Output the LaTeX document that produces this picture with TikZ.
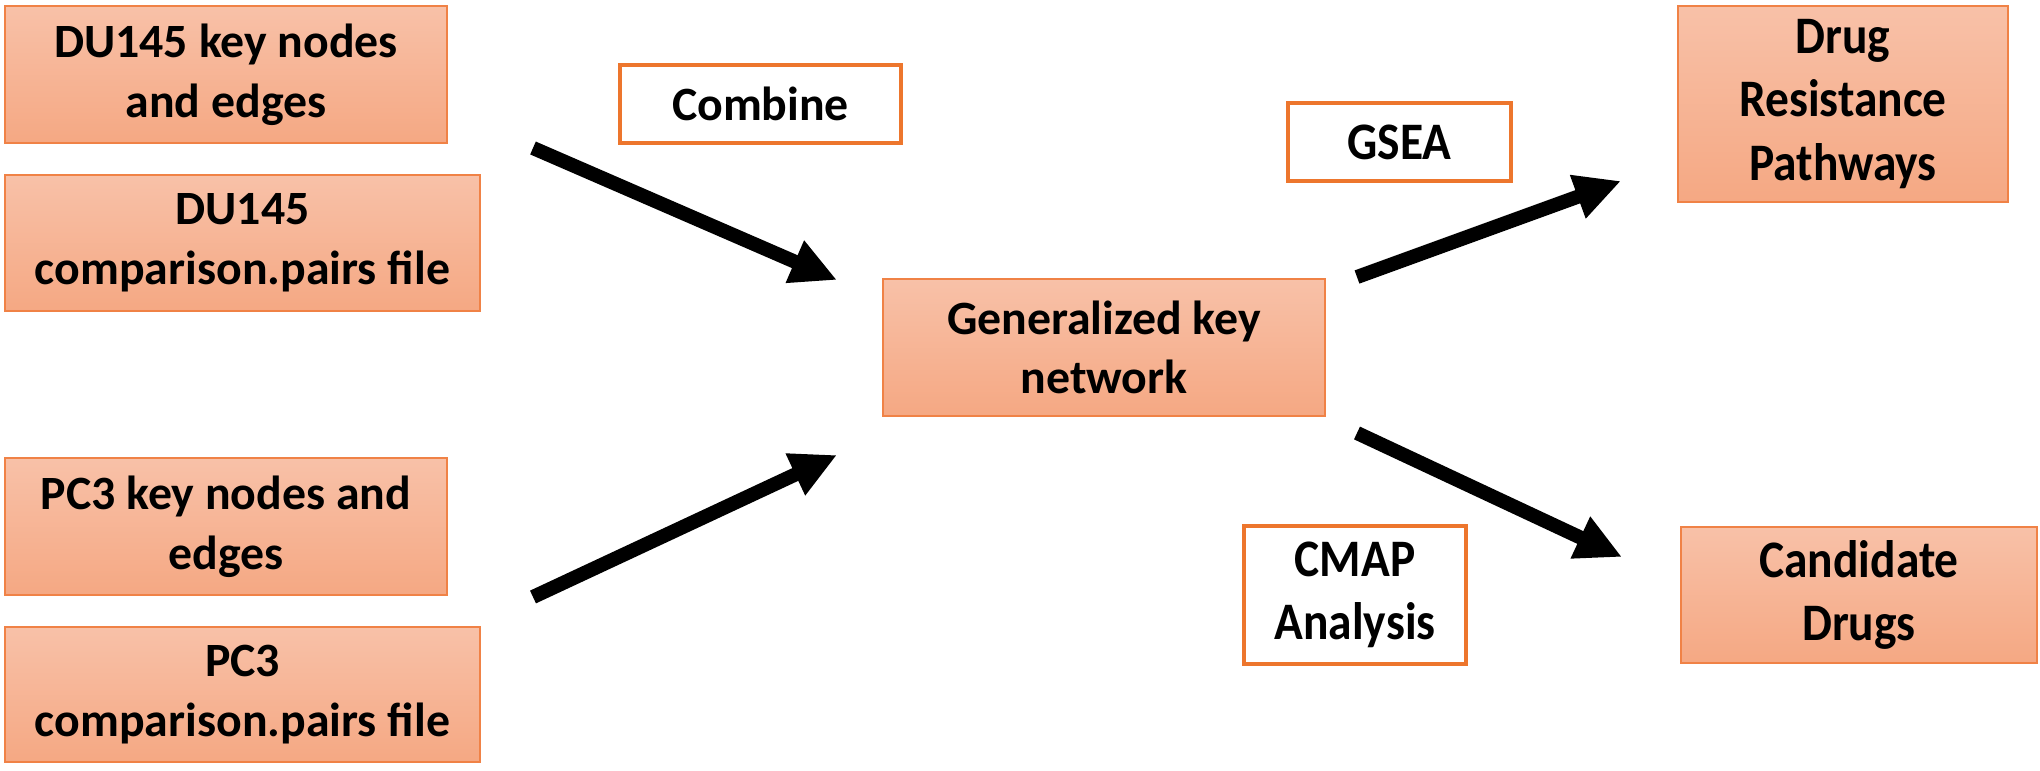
\documentclass[tikz,border=0pt]{standalone}
\usepackage{fontspec}
\setmainfont{Carlito}
\newfontfamily\tallfont{Carlito}[FakeStretch=0.9]
\usepackage{tikz}
\usetikzlibrary{arrows.meta}
\definecolor{boxtop}{RGB}{248,193,168}
\definecolor{boxbot}{RGB}{245,168,131}
\definecolor{boxline}{RGB}{240,130,70}
\definecolor{tagline}{RGB}{237,118,45}

\begin{document}
\begin{tikzpicture}
  [every node/.style={rectangle,inner sep=0pt,align=center,
     font=\bfseries\fontsize{13.6}{17}\selectfont},
   tall/.style={font=\tallfont\bfseries\fontsize{15}{18}\selectfont},
   pinkbox/.style={top color=boxtop,bottom color=boxbot,draw=boxline,line width=0.6pt},
   tagbox/.style={fill=white,draw=tagline,line width=0.9pt},
   bigarrow/.style={line width=4pt,-{Triangle[length=4.6mm,width=4.3mm]}}]
  \useasboundingbox (0,0) rectangle (20.4,7.7);
  \node[pinkbox,minimum width=4.42cm,minimum height=1.37cm] (du1) at (2.26,6.955) {DU145 key nodes\\and edges};
  \node[pinkbox,minimum width=4.75cm,minimum height=1.36cm] (du2) at (2.425,5.27)  {DU145\\comparison.pairs file};
  \node[pinkbox,minimum width=4.42cm,minimum height=1.37cm] (pc1) at (2.26,2.435)  {PC3 key nodes and\\edges};
  \node[pinkbox,minimum width=4.75cm,minimum height=1.35cm] (pc2) at (2.425,0.755) {PC3\\comparison.pairs file};
  \node[tagbox,minimum width=2.81cm,minimum height=0.78cm]  (comb) at (7.605,6.66) {Combine};
  \node[pinkbox,minimum width=4.42cm,minimum height=1.37cm] (net) at (11.04,4.225) {Generalized key\\network};
  \node[tagbox,tall,minimum width=2.23cm,minimum height=0.78cm]  (gsea) at (13.995,6.28) {GSEA};
  \node[tagbox,tall,minimum width=2.22cm,minimum height=1.38cm]  (cmap) at (13.55,1.75) {CMAP\\Analysis};
  \node[pinkbox,tall,minimum width=3.30cm,minimum height=1.96cm] (drp) at (18.43,6.66) {Drug\\Resistance\\Pathways};
  \node[pinkbox,tall,minimum width=3.56cm,minimum height=1.36cm] (cand) at (18.59,1.75) {Candidate\\Drugs};

  \coordinate (a1) at (5.33,6.22);  \coordinate (b1) at (8.37,4.90);
  \coordinate (a2) at (5.33,1.73);  \coordinate (b2) at (8.37,3.15);
  \coordinate (a3) at (13.57,4.93); \coordinate (b3) at (16.21,5.89);
  \coordinate (a4) at (13.57,3.37); \coordinate (b4) at (16.22,2.13);

\foreach \from/\to in
{a1/b1, a2/b2, a3/b3, a4/b4}
    \draw[bigarrow] (\from) -- (\to);
\end{tikzpicture}
\end{document}
